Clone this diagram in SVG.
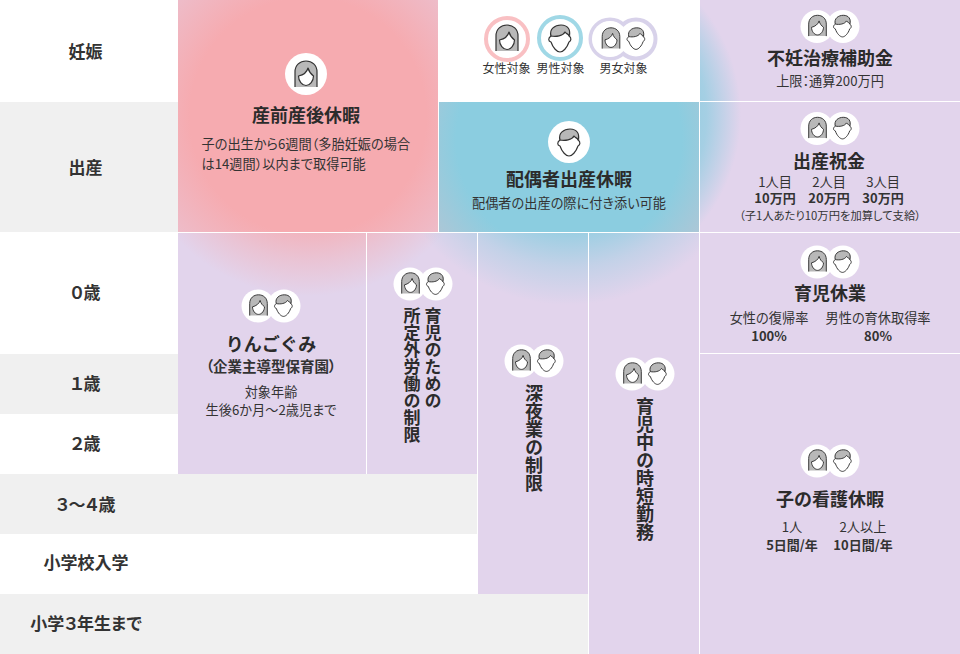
<svg xmlns="http://www.w3.org/2000/svg" width="960" height="654" viewBox="0 0 960 654">
<style>
text{font-family:"Noto Sans CJK JP","Noto Sans",sans-serif;fill:#333;text-anchor:middle}
.row{font-size:17px;font-weight:700;font-feature-settings:"palt"}
.h{font-size:18px;font-weight:700;fill:#2b2b2b}
.b{font-size:13.200px;font-weight:400;font-feature-settings:"palt"}
.bl{text-anchor:start}
.s{font-size:11.300px;font-feature-settings:"palt"}
.m{font-size:13px;font-weight:700;font-feature-settings:"palt"}
.pp{font-size:14.500px;font-weight:700;font-feature-settings:"palt"}
.lg{font-size:12px}
.v{font-size:17px;font-weight:700;writing-mode:vertical-rl;text-anchor:start;fill:#2b2b2b}
.v2{font-size:18px}
.w{fill:#fff}
.p{fill:#e2d4ec}
.g{fill:#f0f0f0}
.l{stroke:#fff;stroke-width:1;fill:none}
.hair{fill:#b8b8b8;stroke:none}
.ol{fill:none;stroke:#333;stroke-width:1.2;stroke-linejoin:round}
.face{fill:#fff;stroke:#333;stroke-width:1.2;stroke-linejoin:round}
</style>
<defs>
<radialGradient id="pinkU" gradientUnits="userSpaceOnUse" cx="308" cy="116" r="215">
<stop offset="0" stop-color="#f6abb0"/><stop offset=".55" stop-color="#f6abb0"/><stop offset=".8" stop-color="#f6abb0" stop-opacity=".6"/><stop offset="1" stop-color="#f6abb0" stop-opacity="0"/>
</radialGradient>
<radialGradient id="pinkL" gradientUnits="userSpaceOnUse" cx="308" cy="116" r="180">
<stop offset=".6" stop-color="#f6abb0" stop-opacity=".85"/><stop offset=".8" stop-color="#f6abb0" stop-opacity=".4"/><stop offset="1" stop-color="#f6abb0" stop-opacity="0"/>
</radialGradient>
<radialGradient id="blueU" gradientUnits="userSpaceOnUse" cx="569" cy="140" r="205">
<stop offset="0" stop-color="#8bcde0"/><stop offset=".55" stop-color="#8bcde0"/><stop offset=".8" stop-color="#8bcde0" stop-opacity=".6"/><stop offset="1" stop-color="#8bcde0" stop-opacity="0"/>
</radialGradient>
<radialGradient id="blueR" gradientUnits="userSpaceOnUse" cx="569" cy="115" r="172">
<stop offset=".6" stop-color="#8bcde0"/><stop offset=".8" stop-color="#8bcde0" stop-opacity=".7"/><stop offset="1" stop-color="#8bcde0" stop-opacity="0"/>
</radialGradient>
<radialGradient id="blueL" gradientUnits="userSpaceOnUse" cx="569" cy="115" r="190">
<stop offset=".6" stop-color="#8bcde0" stop-opacity=".85"/><stop offset=".8" stop-color="#8bcde0" stop-opacity=".35"/><stop offset="1" stop-color="#8bcde0" stop-opacity="0"/>
</radialGradient>
<g id="fem">
<path class="hair" d="M-11,12V-3C-11,-10-6,-14 0,-14C6,-14 11,-10 11,-3V12Z"/>
<path class="ol" d="M-11,12V-3C-11,-10-6,-14 0,-14C6,-14 11,-10 11,-3V12"/>
<path class="face" d="M-7.500,1C-3,0 1,-3 2,-7C3,-3 5,-1 7.500,1C7.500,6 4,10.500 0,10.500C-4,10.500-7.500,6-7.500,1Z"/>
</g>
<g id="mal">
<path class="hair" d="M-9,1C-12,-10-5,-14 1,-14C8,-14 12,-8 10,1Z"/>
<path class="face" d="M-9,-3C-4,-2 3,-3 5,-7C6,-5 9,-5 9,-3C12,-1 11,2 9,3C7,9 3,13 0,13C-3,13-7,9-9,3C-12,2-12,-1-9,-3Z"/>
<path class="ol" d="M-9,-3C-11,-10-5,-14 1,-14C8,-14 11,-9 9,-3"/>
</g>
<g id="duo">
<circle cx="-13" cy="0" r="16.500" class="w"/><circle cx="13" cy="0" r="16.500" class="w"/>
<use href="#fem" transform="translate(-12.500,0) scale(.8)"/>
<use href="#mal" transform="translate(12.500,0) scale(.8)"/>
</g>
</defs>

<g id="background">
<rect width="960" height="654" class="w"/>
<rect y="102" width="178" height="130" class="g"/>
<rect y="354" width="178" height="60" class="g"/>
<rect y="474" width="478" height="60" class="g"/>
<rect y="594" width="589" height="60" class="g"/>
<rect x="178" y="0" width="782" height="474" class="p"/>
<rect x="478" y="474" width="482" height="120" class="p"/>
<rect x="589" y="594" width="371" height="60" class="p"/>
<rect x="178" y="0" width="260" height="232" fill="url(#pinkU)"/>
<rect x="178" y="232" width="300" height="120" fill="url(#pinkL)"/>
<rect x="438" y="102" width="262" height="130" fill="#e6bcc6"/>
<rect x="438" y="102" width="262" height="130" fill="url(#blueU)"/>
<rect x="700" y="0" width="60" height="232" fill="url(#blueR)"/>
<rect x="366" y="232" width="334" height="120" fill="url(#blueL)"/>
<rect x="438" y="0" width="262" height="102" class="w"/>
</g>

<g id="connectors">
<path class="l" d="M178,232.500H960M700,101.500H960M700,353.500H960M438.500,102V232M699.500,0V654M366.500,232V474M477.500,232V594M588.500,232V654"/>
</g>

<g id="rows">
<text class="row" x="85.500" y="58">妊娠</text>
<text class="row" x="85.500" y="174">出産</text>
<text class="row" x="85.500" y="299">０歳</text>
<text class="row" x="85.500" y="390">１歳</text>
<text class="row" x="85.500" y="450">２歳</text>
<text class="row" x="85.500" y="511">３～４歳</text>
<text class="row" x="86" y="569">小学校入学</text>
<text class="row" x="86" y="630">小学３年生まで</text>
</g>

<g id="legend">
<circle cx="507" cy="39" r="21" fill="#fff" stroke="#f9c0c3" stroke-width="4"/>
<use href="#fem" transform="translate(507,39)"/>
<circle cx="560" cy="38" r="21" fill="#fff" stroke="#a0d8e6" stroke-width="4"/>
<use href="#mal" transform="translate(560,39)"/>
<circle cx="610" cy="39" r="19.500" fill="#fff" stroke="#d8d2ea" stroke-width="4"/>
<circle cx="636" cy="39" r="19.500" fill="#fff" stroke="#d8d2ea" stroke-width="4"/>
<circle cx="610" cy="39" r="18" fill="#fff"/>
<use href="#fem" transform="translate(611,39) scale(.8)"/>
<use href="#mal" transform="translate(636,39) scale(.8)"/>
<text class="lg" x="506.500" y="73">女性対象</text>
<text class="lg" x="560.500" y="73">男性対象</text>
<text class="lg" x="623.500" y="73">男女対象</text>
</g>

<g id="node-prenatal">
<circle cx="306" cy="74" r="21" class="w"/>
<use href="#fem" transform="translate(306,75)"/>
<text class="h" x="306" y="122">産前産後休暇</text>
<text class="b bl" x="201.500" y="149">子の出生から6週間（多胎妊娠の場合</text>
<text class="b bl" x="201.500" y="169">は14週間）以内まで取得可能</text>
</g>

<g id="node-spouse">
<circle cx="569" cy="142" r="21" class="w"/>
<use href="#mal" transform="translate(569,143)"/>
<text class="h" x="569" y="186">配偶者出産休暇</text>
<text class="b" x="569" y="208">配偶者の出産の際に付き添い可能</text>
</g>

<g id="node-fertility">
<use href="#duo" transform="translate(830,26.500)"/>
<text class="h" x="830" y="65">不妊治療補助金</text>
<text class="b" x="830" y="86">上限：通算200万円</text>
</g>

<g id="node-birth">
<use href="#duo" transform="translate(830,128.500)"/>
<text class="h" x="829" y="168">出産祝金</text>
<text class="b" x="775" y="187">1人目</text><text class="b" x="829" y="187">2人目</text><text class="b" x="883" y="187">3人目</text>
<text class="m" x="775" y="203">10万円</text><text class="m" x="829" y="203">20万円</text><text class="m" x="883" y="203">30万円</text>
<text class="s" x="830" y="220">（子1人あたり10万円を加算して支給）</text>
</g>

<g id="node-childcare">
<use href="#duo" transform="translate(830,262)"/>
<text class="h" x="830" y="300">育児休業</text>
<text class="b" x="769" y="323">女性の復帰率</text><text class="b" x="878" y="323">男性の育休取得率</text>
<text class="m" x="769" y="341">100%</text><text class="m" x="878" y="341">80%</text>
</g>

<g id="node-nursery">
<use href="#duo" transform="translate(271,306)"/>
<text class="h" x="271" y="351">りんごぐみ</text>
<text class="pp" x="271" y="372">（企業主導型保育園）</text>
<text class="b" x="271" y="397">対象年齢</text>
<text class="b" x="271" y="415">生後6か月～2歳児まで</text>
</g>

<g id="node-overtime">
<use href="#duo" transform="translate(423,284)"/>
<text class="v" x="433" y="307">育児のための</text>
<text class="v" x="412" y="307">所定外労働の制限</text>
</g>

<g id="node-night">
<use href="#duo" transform="translate(534,361)"/>
<text class="v v2" x="534" y="384">深夜業の制限</text>
</g>

<g id="node-short">
<use href="#duo" transform="translate(645,374)"/>
<text class="v v2" x="645" y="397">育児中の時短勤務</text>
</g>

<g id="node-sick">
<use href="#duo" transform="translate(830,461)"/>
<text class="h" x="830" y="506">子の看護休暇</text>
<text class="b" x="792" y="532">1人</text><text class="b" x="863" y="532">2人以上</text>
<text class="m" x="792" y="550">5日間/年</text><text class="m" x="863" y="550">10日間/年</text>
</g>
</svg>
